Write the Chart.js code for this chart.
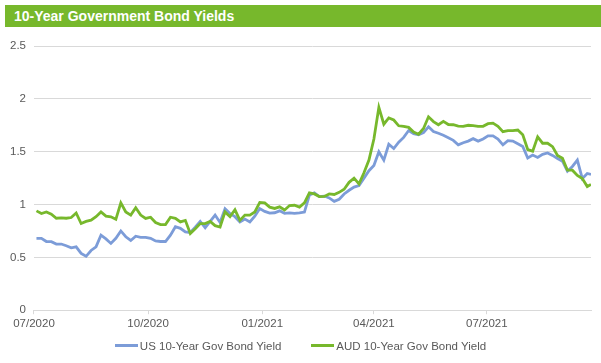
<!DOCTYPE html>
<html>
<head>
<meta charset="utf-8">
<script src="https://cdn.jsdelivr.net/npm/chart.js@4.4.1/dist/chart.umd.min.js"></script>
<style>
  html, body { margin: 0; padding: 0; background: #fff; }
  #wrap { position: relative; width: 601px; height: 363px; font-family: "Liberation Sans", Arial, sans-serif; }
  #title {
    position: absolute; left: 5px; top: 5px; width: 596px; height: 22px;
    background: #77b82c; color: #fff; box-sizing: border-box; padding-left: 9px;
    font-weight: bold; font-size: 14px; line-height: 22px;
  }
  canvas { position: absolute; left: 0; top: 0; }
  #legend {
    position: absolute; left: 0; top: 339px; width: 601px; height: 14px;
    text-align: center; font-size: 11.5px; line-height: 14px; color: #595959; white-space: nowrap;
  }
  #legend .item { display: inline-block; margin: 0 15px; }
  #legend .swatch { display: inline-block; width: 23px; height: 3px; margin-right: 2px; vertical-align: middle; position: relative; top: -1px; }
</style>
</head>
<body>
<div id="wrap">
  <canvas id="chart" width="601" height="363"></canvas>
  <div id="title">10-Year Government Bond Yields</div>
  <div id="legend"></div>
</div>
<script>
const dates = [
  '2020-07-03','2020-07-07','2020-07-11','2020-07-15','2020-07-19','2020-07-23','2020-07-27','2020-07-31',
  '2020-08-04','2020-08-08','2020-08-12','2020-08-16','2020-08-20','2020-08-24','2020-08-28','2020-09-01',
  '2020-09-05','2020-09-09','2020-09-13','2020-09-17','2020-09-21','2020-09-25','2020-09-29','2020-10-03',
  '2020-10-07','2020-10-11','2020-10-15','2020-10-19','2020-10-23','2020-10-27','2020-10-31','2020-11-04',
  '2020-11-08','2020-11-12','2020-11-16','2020-11-20','2020-11-24','2020-11-28','2020-12-02','2020-12-06',
  '2020-12-10','2020-12-14','2020-12-18','2020-12-22','2020-12-26','2020-12-30','2021-01-03','2021-01-07',
  '2021-01-11','2021-01-15','2021-01-19','2021-01-23','2021-01-27','2021-01-31','2021-02-04','2021-02-08',
  '2021-02-12','2021-02-16','2021-02-20','2021-02-24','2021-02-28','2021-03-04','2021-03-08','2021-03-12',
  '2021-03-16','2021-03-20','2021-03-24','2021-03-28','2021-04-01','2021-04-05','2021-04-09','2021-04-13',
  '2021-04-17','2021-04-21','2021-04-25','2021-04-29','2021-05-03','2021-05-07','2021-05-11','2021-05-15',
  '2021-05-19','2021-05-23','2021-05-27','2021-05-31','2021-06-04','2021-06-08','2021-06-12','2021-06-16',
  '2021-06-20','2021-06-24','2021-06-28','2021-07-02','2021-07-06','2021-07-10','2021-07-14','2021-07-18',
  '2021-07-22','2021-07-26','2021-07-30','2021-08-03','2021-08-07','2021-08-11','2021-08-15','2021-08-19',
  '2021-08-23','2021-08-27','2021-08-31','2021-09-04','2021-09-08','2021-09-12','2021-09-16','2021-09-20',
  '2021-09-23'
];

const usYield = [
  0.68, 0.68, 0.65, 0.648, 0.626, 0.626, 0.61, 0.59, 0.60, 0.538, 0.51, 0.565, 0.60, 0.71, 0.675, 0.632,
  0.68, 0.75, 0.695, 0.66, 0.70, 0.69, 0.69, 0.68, 0.655, 0.65, 0.65, 0.71, 0.79, 0.775, 0.74, 0.735,
  0.785, 0.84, 0.78, 0.84, 0.90, 0.83, 0.96, 0.914, 0.885, 0.835, 0.862, 0.835, 0.89, 0.962, 0.935, 0.918,
  0.922, 0.94, 0.917, 0.921, 0.916, 0.92, 0.928, 1.09, 1.11, 1.075, 1.08, 1.062, 1.03, 1.05, 1.10, 1.135,
  1.165, 1.18, 1.25, 1.32, 1.37, 1.50, 1.42, 1.57, 1.53, 1.59, 1.635, 1.70, 1.67, 1.66, 1.68, 1.735,
  1.69, 1.674, 1.655, 1.632, 1.607, 1.565, 1.585, 1.60, 1.623, 1.60, 1.62, 1.65, 1.65, 1.62, 1.565, 1.605,
  1.60, 1.575, 1.55, 1.44, 1.468, 1.445, 1.475, 1.488, 1.465, 1.435, 1.41, 1.315, 1.36, 1.42, 1.246, 1.294,
  1.285
];

const audYield = [
  0.94, 0.915, 0.93, 0.909, 0.87, 0.874, 0.87, 0.877, 0.92, 0.82, 0.84, 0.852, 0.885, 0.93, 0.89, 0.884,
  0.86, 1.016, 0.93, 0.90, 0.97, 0.90, 0.868, 0.88, 0.83, 0.81, 0.81, 0.88, 0.87, 0.835, 0.85, 0.725,
  0.77, 0.82, 0.82, 0.84, 0.80, 0.787, 0.93, 0.885, 0.95, 0.85, 0.90, 0.90, 0.93, 1.02, 1.015, 0.975,
  0.963, 0.978, 0.948, 0.99, 0.993, 0.975, 1.016, 1.11, 1.10, 1.075, 1.077, 1.10, 1.095, 1.115, 1.145, 1.21,
  1.25, 1.195, 1.30, 1.42, 1.62, 1.92, 1.76, 1.82, 1.80, 1.745, 1.74, 1.73, 1.685, 1.665, 1.72, 1.83,
  1.785, 1.755, 1.787, 1.757, 1.755, 1.742, 1.74, 1.75, 1.747, 1.74, 1.74, 1.765, 1.77, 1.74, 1.69, 1.70,
  1.70, 1.705, 1.66, 1.52, 1.505, 1.64, 1.58, 1.58, 1.548, 1.465, 1.437, 1.325, 1.325, 1.275, 1.246, 1.17,
  1.19
];

const tickDates = ['2020-07-01', '2020-10-01', '2021-01-01', '2021-04-01', '2021-07-01'];
const tickLabels = ['07/2020', '10/2020', '01/2021', '04/2021', '07/2021'];
const axisEnd = '2021-09-23';

const FONT = '"Liberation Sans", Arial, sans-serif';
const TEXT = '#595959';
const GRID = '#d9d9d9';

// days since the first tick
const dayOf = d => (Date.parse(d) - Date.parse(tickDates[0])) / 86400000;
const tickDays = tickDates.map(dayOf);

const usPoints = dates.map((d, i) => ({ x: dayOf(d), y: usYield[i] }));
const audPoints = dates.map((d, i) => ({ x: dayOf(d), y: audYield[i] }));

const series = [
    { label: 'US 10-Year Gov Bond Yield', color: '#7c9cd8', data: usPoints, order: 1 },
    { label: 'AUD 10-Year Gov Bond Yield', color: '#77b82c', data: audPoints, order: 0 }
];

const ctx = document.getElementById('chart').getContext('2d');
const chart = new Chart(ctx, {
    type: 'line',
    data: {
        datasets: series.map(s => ({
            label: s.label,
            data: s.data,
            borderColor: s.color,
            backgroundColor: s.color,
            borderWidth: 2.8,
            pointRadius: 0,
            tension: 0,
            order: s.order
        }))
    },
    options: {
        responsive: false,
        animation: false,
        layout: { padding: { top: 46, left: 2, right: 10, bottom: 29 } },
        plugins: {
            legend: { display: false },
            tooltip: { enabled: false }
        },
        scales: {
            x: {
                type: 'linear',
                min: 0,
                max: dayOf(axisEnd),
                afterBuildTicks: axis => {
                    axis.ticks = tickDays.map(v => ({ value: v }));
                },
                ticks: {
                    autoSkip: false,
                    maxRotation: 0,
                    padding: 3,
                    color: TEXT,
                    font: { family: FONT, size: 11.5 },
                    callback: v => tickLabels[tickDays.indexOf(v)]
                },
                grid: { drawOnChartArea: false, tickLength: 4, color: GRID },
                border: { color: GRID }
            },
            y: {
                min: 0,
                max: 2.5,
                ticks: {
                    stepSize: 0.5,
                    padding: 8,
                    color: TEXT,
                    font: { family: FONT, size: 11.5 },
                    callback: v => String(v)
                },
                grid: { color: GRID, drawTicks: false },
                border: { display: false }
            }
        }
    }
});

// legend below the axis
const legend = document.getElementById('legend');
series.forEach(s => {
    const item = document.createElement('span');
    item.className = 'item';
    const swatch = document.createElement('span');
    swatch.className = 'swatch';
    swatch.style.background = s.color;
    item.appendChild(swatch);
    item.appendChild(document.createTextNode(s.label));
    legend.appendChild(item);
});
</script>
</body>
</html>
